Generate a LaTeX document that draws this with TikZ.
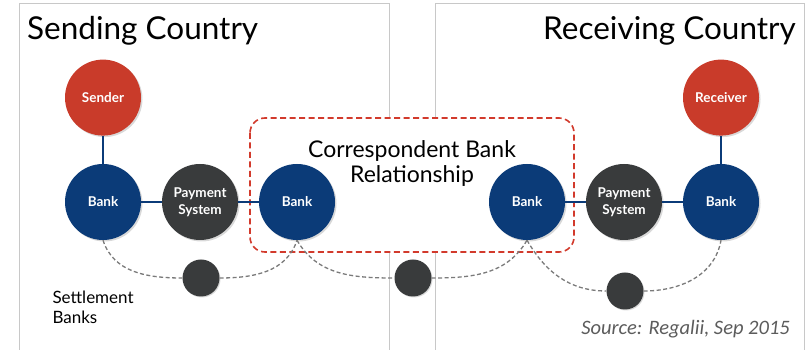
\documentclass[tikz,border=0pt]{standalone}
\usepackage{fontspec}
\setmainfont{Lato}
\newfontfamily\sourcefont{Carlito}
\usetikzlibrary{shapes, calc, positioning, shadows}

\definecolor{bankblue}{HTML}{0B3B78}
\definecolor{partyred}{HTML}{C93B2A}
\definecolor{paygray}{HTML}{393B3C}
\definecolor{boxred}{HTML}{D23A2C}
\definecolor{framegray}{HTML}{C8C8C8}
\definecolor{settlegray}{HTML}{7A7A7A}

\begin{document}
\begin{tikzpicture}[x=1pt, y=1pt, node distance=97pt]
	\tikzstyle{circ} = [circle, minimum size=76pt, inner sep=0pt, text=white, align=center, font=\bfseries\fontsize{13.5}{17}\selectfont, drop shadow={shadow xshift=1.5pt, shadow yshift=-1.5pt, opacity=0.3}]
	\tikzstyle{party} = [circ, fill=partyred]
	\tikzstyle{bank} = [circ, fill=bankblue]
	\tikzstyle{paysys} = [circ, fill=paygray]
	\tikzstyle{settle} = [circle, fill=paygray, minimum size=37pt, inner sep=0pt, drop shadow={shadow xshift=1pt, shadow yshift=-1pt, opacity=0.3}]
	\tikzstyle{link} = [bankblue, line width=1.6pt]
	\tikzstyle{settleline} = [settlegray, dashed, line width=1.3pt, dash pattern=on 4pt off 2.5pt]
	\tikzstyle{country} = [font=\fontsize{31.5}{34}\selectfont]

	\useasboundingbox (0,0) rectangle (808,350);

	\draw[framegray, line width=1pt] (19,-5) |- (389,346) -- (389,-5);
	\draw[framegray, line width=1pt] (435,-5) |- (804,346) -- (804,-5);
	\node[country, anchor=base west, inner sep=0pt] (sendtitle) at (27,310) {Sending Country};
	\node[country, anchor=base east, inner sep=0pt] (recvtitle) at (796,310) {Receiving Country};

	\draw[boxred, dashed, fill=white, line width=1.6pt, dash pattern=on 6pt off 3.5pt, rounded corners=15pt] (250,232) rectangle (574,98);
	\node[align=center, font=\fontsize{23}{25}\selectfont] (corrtext) at (412,186) {Correspondent Bank\\Relationship};

	\node[bank] (bankL) at (103,148) {Bank};
	\node[party, above=28pt of bankL] (sender) {Sender};
	\node[paysys, right of=bankL] (payL) {Payment\\System};
	\node[bank, right of=payL] (bankCL) {Bank};
	\node[bank] (bankCR) at (527,148) {Bank};
	\node[paysys, right of=bankCR] (payR) {Payment\\System};
	\node[bank, right of=payR] (bankR) {Bank};
	\node[party, above=28pt of bankR] (receiver) {Receiver};

	\node[settle] (setL) at (201,72) {};
	\node[settle] (setM) at (413,72) {};
	\node[settle] (setR) at (625,59) {};

	\path[link]
		(sender) edge (bankL)
		(bankL) edge (payL)
		(payL) edge (bankCL)
		(bankCR) edge (payR)
		(payR) edge (bankR)
		(receiver) edge (bankR)
	;

	\draw[settleline] (bankL.south) to[out=-72, in=180] (setL);
	\draw[settleline] (setL) to[out=0, in=-108] (bankCL.south);
	\draw[settleline] (bankCL.south) to[out=-60, in=180] (setM);
	\draw[settleline] (setM) to[out=0, in=-120] (bankCR.south);
	\draw[settleline] (bankCR.south) to[out=-60, in=180] (setR);
	\draw[settleline] (setR) to[out=0, in=-100] (bankR.south);

	\node[align=left, anchor=north west, font=\fontsize{17}{20}\selectfont] (settletext) at (49,63) {Settlement\\Banks};
	\node[anchor=base east, inner sep=0pt, text=black!64, font=\sourcefont\itshape\fontsize{20.5}{22}\selectfont] (source) at (790,15) {Source: Regalii, Sep 2015};
\end{tikzpicture}
\end{document}
